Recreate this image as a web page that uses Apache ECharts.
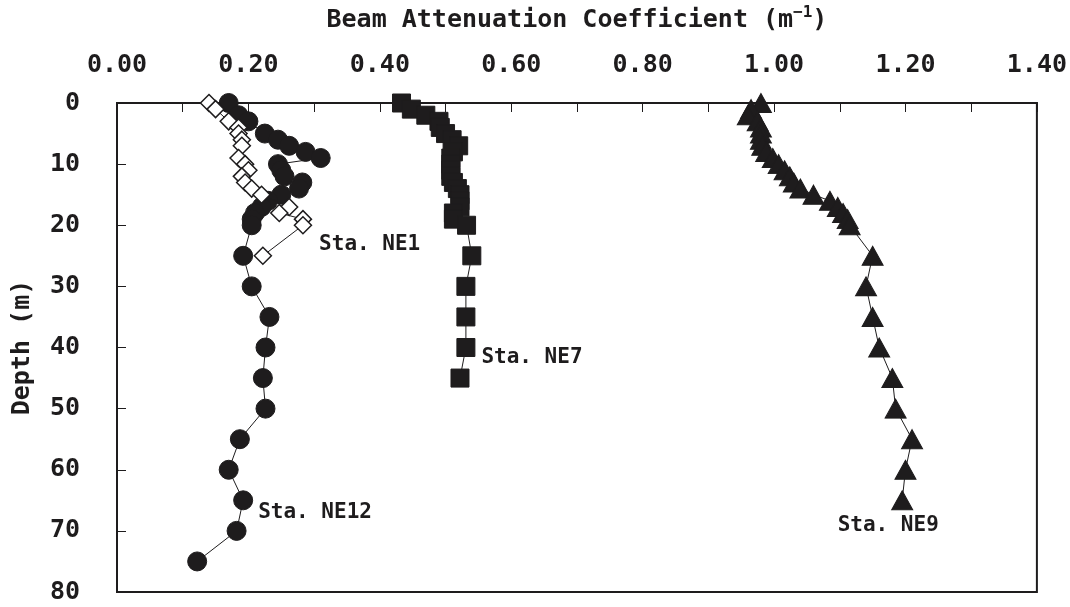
<!DOCTYPE html>
<html>
<head>
<meta charset="utf-8">
<script src="https://cdn.jsdelivr.net/npm/echarts@6/dist/echarts.min.js"></script>
<style>
html,body{margin:0;padding:0;background:#fff;}
#chart{width:1070px;height:607px;}
</style>
</head>
<body>
<div id="chart"></div>
<script>
// ---- Data (x = beam attenuation coefficient, m^-1 ; y = depth, m) ----
const xTickValues = [0, 0.2, 0.4, 0.6, 0.8, 1.0, 1.2, 1.4];
const depthTicks = [0, 10, 20, 30, 40, 50, 60, 70, 80];

const depthNE12 = [0, 2, 3, 5, 6, 7, 8, 9, 10, 11, 12, 13, 14, 15, 16, 17, 18, 19, 20, 25, 30, 35, 40, 45, 50, 55, 60, 65, 70, 75];
const cNE12     = [0.17, 0.185, 0.20, 0.225, 0.245, 0.262, 0.287, 0.31, 0.245, 0.25, 0.255, 0.282, 0.277, 0.25, 0.23, 0.22, 0.21, 0.205, 0.205, 0.192, 0.205, 0.232, 0.226, 0.222, 0.226, 0.187, 0.17, 0.192, 0.182, 0.122];

const depthNE1 = [0, 1, 3, 4, 5, 6, 7, 9, 10, 11, 12, 13, 14, 15, 17, 18, 19, 20, 25];
const cNE1     = [0.14, 0.15, 0.17, 0.185, 0.185, 0.19, 0.19, 0.185, 0.195, 0.20, 0.19, 0.195, 0.205, 0.22, 0.262, 0.247, 0.283, 0.283, 0.222];

const depthNE7 = [0, 1, 2, 3, 4, 5, 6, 7, 8, 9, 10, 11, 12, 13, 14, 15, 16, 17, 18, 19, 20, 25, 30, 35, 40, 45];
const cNE7     = [0.433, 0.448, 0.47, 0.49, 0.492, 0.50, 0.51, 0.52, 0.512, 0.508, 0.508, 0.508, 0.508, 0.512, 0.518, 0.522, 0.522, 0.522, 0.512, 0.512, 0.532, 0.54, 0.531, 0.531, 0.531, 0.522];

const depthNE9 = [0, 1, 2, 3, 4, 5, 6, 7, 8, 9, 10, 11, 12, 13, 14, 15, 16, 17, 18, 19, 20, 25, 30, 35, 40, 45, 50, 55, 60, 65];
const cNE9     = [0.98, 0.965, 0.96, 0.975, 0.98, 0.98, 0.98, 0.982, 0.988, 0.998, 1.007, 1.016, 1.024, 1.03, 1.04, 1.06, 1.085, 1.097, 1.105, 1.112, 1.115, 1.15, 1.14, 1.15, 1.16, 1.18, 1.185, 1.21, 1.20, 1.195];

const stationNames = ['Sta. NE12', 'Sta. NE1', 'Sta. NE7', 'Sta. NE9'];

const INK = '#1e1c1d';
const FONT = '"DejaVu Sans Mono", monospace';

function pairs(xs, ds, labelIdx, labelCfg) {
  return xs.map(function (v, i) {
    const item = { value: [v, ds[i]] };
    if (i === labelIdx) item.label = labelCfg;
    return item;
  });
}
function lab(text, pos, off) {
  return { show: true, formatter: text, position: pos, offset: off, color: INK, fontFamily: FONT, fontSize: 21, fontWeight: 'bold' };
}

const chart = echarts.init(document.getElementById('chart'), null, { renderer: 'canvas' });

const baseSeries = {
  type: 'line',
  lineStyle: { color: INK, width: 1 },
  itemStyle: { color: INK, borderColor: INK },
  label: { show: false },
  emphasis: { disabled: true },
  animation: false,
  z: 2
};

chart.setOption({
  animation: false,
  backgroundColor: '#ffffff',
  grid: { left: 117, right: 29, top: 103, bottom: 15, show: true, borderColor: INK, borderWidth: 2, backgroundColor: 'transparent' },
  xAxis: {
    type: 'value', position: 'top', min: 0, max: 1.4, interval: 0.2,
    name: 'Beam Attenuation Coefficient (m{sup|−1})',
    nameLocation: 'middle', nameGap: 68,
    nameTextStyle: {
      color: INK, fontFamily: FONT, fontSize: 25, fontWeight: 'bold',
      rich: { sup: { fontSize: 16, fontFamily: FONT, fontWeight: 'bold', color: INK, verticalAlign: 'top', padding: [0, 0, 14, 0] } }
    },
    axisLine: { show: true, lineStyle: { color: INK, width: 2 } },
    axisTick: { show: true, inside: true, length: 9, lineStyle: { color: INK, width: 1 } },
    minorTick: { show: true, splitNumber: 2, length: 9, lineStyle: { color: INK, width: 1 } },
    axisLabel: { color: INK, fontFamily: FONT, fontSize: 25, fontWeight: 'bold', margin: 25, showMinLabel: true, showMaxLabel: true,
      formatter: function (v) { return v.toFixed(2); } },
    splitLine: { show: false }
  },
  yAxis: {
    type: 'value', inverse: true, min: 0, max: 80, interval: 10,
    name: 'Depth (m)', nameLocation: 'middle', nameGap: 82, nameRotate: 90,
    nameTextStyle: { color: INK, fontFamily: FONT, fontSize: 25, fontWeight: 'bold' },
    axisLine: { show: true, lineStyle: { color: INK, width: 2 } },
    axisTick: { show: true, inside: true, length: 9, lineStyle: { color: INK, width: 1 } },
    axisLabel: { color: INK, fontFamily: FONT, fontSize: 25, fontWeight: 'bold', margin: 37, showMinLabel: true, showMaxLabel: true },
    splitLine: { show: false }
  },
  series: [
    Object.assign({}, baseSeries, {
      name: stationNames[0], symbol: 'circle', symbolSize: 19,
      data: pairs(cNE12, depthNE12, depthNE12.indexOf(65), lab(stationNames[0], 'right', [0, 12]))
    }),
    Object.assign({}, baseSeries, {
      name: stationNames[1], symbol: 'diamond', symbolSize: 17,
      itemStyle: { color: '#ffffff', borderColor: INK, borderWidth: 1.5 },
      data: pairs(cNE1, depthNE1, depthNE1.indexOf(25), lab(stationNames[1], 'right', [42, -11])),
      z: 3
    }),
    Object.assign({}, baseSeries, {
      name: stationNames[2], symbol: 'rect', symbolSize: 18,
      data: pairs(cNE7, depthNE7, depthNE7.indexOf(40), lab(stationNames[2], 'right', [1, 10]))
    }),
    Object.assign({}, baseSeries, {
      name: stationNames[3], symbol: 'triangle', symbolSize: [21, 19],
      data: pairs(cNE9, depthNE9, depthNE9.indexOf(65), lab(stationNames[3], 'bottom', [-14, 0]))
    })
  ]
});
</script>
</body>
</html>
